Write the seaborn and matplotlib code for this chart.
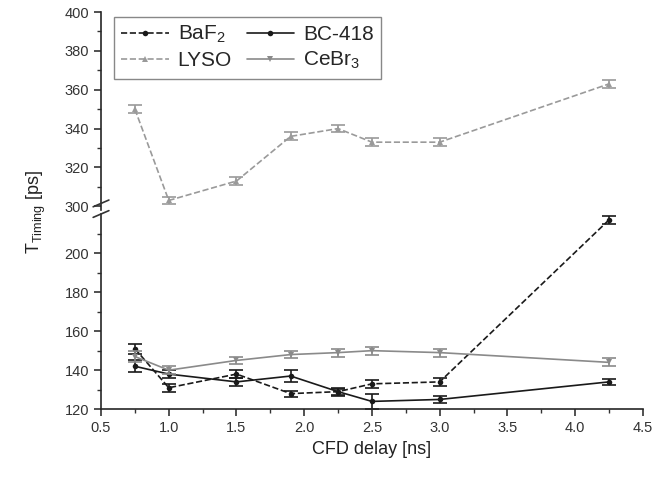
import numpy as np
import pandas as pd
import matplotlib
matplotlib.use('Agg')
import matplotlib.pyplot as plt
import seaborn as sns

# CFD delay values [ns]
cfd_delay = [0.75, 1.0, 1.5, 1.9, 2.25, 2.5, 3.0, 4.25]

# timing resolution [ps] and errors
baf2 = [151, 131, 138, 128, 129, 133, 134, 217]
baf2_err = [2.5, 2, 2, 1.5, 1.5, 2, 2, 2]
bc418 = [142, 138, 134, 137, 129, 124, 125, 134]
bc418_err = [3, 2, 2, 3, 2, 4, 2, 1.5]
lyso = [350, 303, 313, 336, 340, 333, 333, 363]
lyso_err = [2, 2, 2, 2, 2, 2, 2, 2]
cebr3 = [147, 140, 145, 148, 149, 150, 149, 144]
cebr3_err = [3, 2, 2, 2, 2, 2, 2, 2]

series_names = ['BaF$_2$', 'BC-418', 'LYSO', 'CeBr$_3$']
series_vals = [baf2, bc418, lyso, cebr3]
series_errs = [baf2_err, bc418_err, lyso_err, cebr3_err]
colors = ['#1a1a1a', '#1a1a1a', '#9a9a9a', '#8a8a8a']
styles = ['--', '-', '--', '-']
markers = ['o', 'o', '^', 'v']

sns.set_theme(style='ticks')
plt.rcParams['font.family'] = ['Liberation Sans', 'DejaVu Sans']
plt.rcParams['mathtext.fontset'] = 'custom'
plt.rcParams['mathtext.rm'] = 'Liberation Sans'
plt.rcParams['mathtext.it'] = 'Liberation Sans'

fig = plt.figure(figsize=(6.56, 4.82), dpi=100)
# broken y axis: upper part 298-400, lower part 120-220
ax_top = fig.add_axes([0.154, 0.564, 0.826, 0.411])
ax_bot = fig.add_axes([0.154, 0.151, 0.826, 0.405])

for ax in (ax_top, ax_bot):
    for name, vals, errs, c, ls, m in zip(series_names, series_vals, series_errs, colors, styles, markers):
        df = pd.DataFrame({'x': cfd_delay, 'y': vals})
        sns.lineplot(data=df, x='x', y='y', ax=ax, color=c, linestyle=ls, marker=m,
                     markersize=4, markeredgewidth=0, linewidth=1.2, label=name)
        ax.errorbar(cfd_delay, vals, yerr=errs, fmt='none', ecolor=c, elinewidth=1.2,
                    capsize=5, capthick=1.2)
    ax.set_xlim(0.5, 4.5)
    ax.set_xlabel('')
    ax.set_ylabel('')
    ax.spines['right'].set_visible(False)
    ax.spines['top'].set_visible(False)
    ax.spines['left'].set_linewidth(1.2)
    ax.spines['bottom'].set_linewidth(1.2)
    ax.tick_params(axis='both', labelsize=10.5, colors='#333333', width=1.2, length=5,
                   direction='out')
    ax.tick_params(which='minor', width=1.0, length=3, direction='out', colors='#333333')

ax_top.set_ylim(298, 400)
ax_top.set_yticks([300, 320, 340, 360, 380, 400])
ax_top.set_yticks(np.arange(310, 400, 20), minor=True)
ax_top.spines['bottom'].set_visible(False)
ax_top.tick_params(axis='x', which='both', bottom=False, labelbottom=False)

ax_bot.set_ylim(120, 220)
ax_bot.set_yticks([120, 140, 160, 180, 200])
ax_bot.set_yticks([130, 150, 170, 190, 210], minor=True)
ax_bot.set_xticks(np.arange(0.5, 4.51, 0.5))
ax_bot.set_xticklabels([f'{v:.1f}' for v in np.arange(0.5, 4.51, 0.5)])
ax_bot.set_xticks(np.arange(0.75, 4.5, 0.5), minor=True)
ax_bot.set_xlabel('CFD delay [ns]', fontsize=13, color='#222222')

ax_bot.get_legend().remove()
handles, labels = ax_top.get_legend_handles_labels()
ax_top.get_legend().remove()
# row order: BaF2, BC-418 / LYSO, CeBr3 (legend fills column-wise)
order = [0, 2, 1, 3]
leg = ax_top.legend([handles[i] for i in order], [labels[i] for i in order], ncol=2,
                    loc='upper left', bbox_to_anchor=(0.005, 1.03), fontsize=15,
                    frameon=True, fancybox=False, edgecolor='#888888', framealpha=1,
                    handlelength=2.3, columnspacing=0.7, handletextpad=0.4,
                    borderpad=0.35, labelspacing=0.3)
leg.get_frame().set_linewidth(1.0)

fig.text(0.055, 0.56, r'T$_{\mathrm{Timing}}$ [ps]', rotation=90, fontsize=13,
         color='#222222', ha='center', va='center')

# axis break marks
for yb in (0.578, 0.556):
    fig.add_artist(plt.Line2D([0.142, 0.166], [yb - 0.007, yb + 0.007],
                              color='#333333', linewidth=1.2))

fig.savefig('out.png', dpi=100, facecolor='white')
